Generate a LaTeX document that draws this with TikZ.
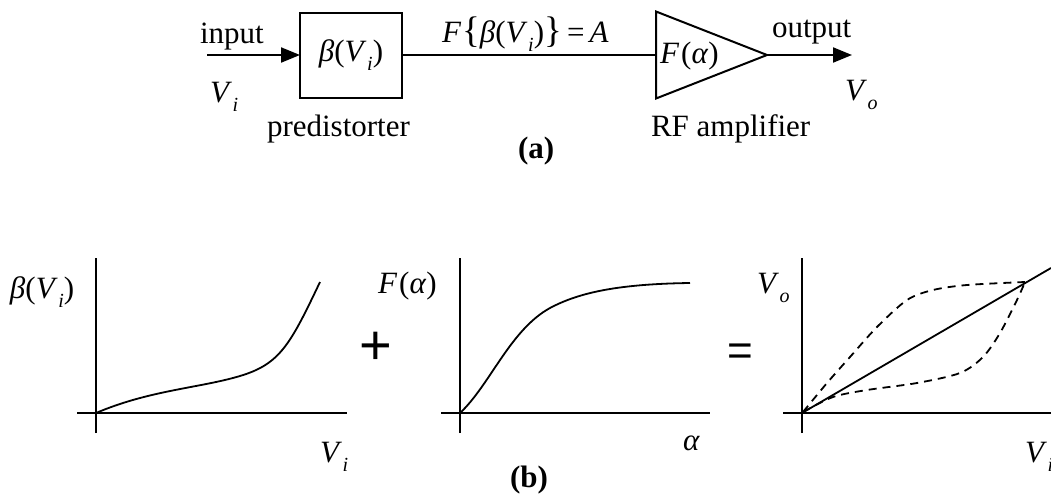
\documentclass[tikz,border=0pt]{standalone}
\usepackage{fontspec}
\setmainfont{Liberation Serif}
\newfontfamily\opfont{Liberation Sans}
\usetikzlibrary{positioning,arrows.meta,shapes.geometric}
\newcommand{\subv}[2]{\textit{#1}\kern0.3pt\raisebox{-4.5pt}{\fontsize{10}{10}\selectfont\itshape #2}}
\newcommand{\bigbrace}[1]{{\fontsize{18.5}{18}\selectfont#1}}

\begin{document}
\begin{tikzpicture}[x=0.5pt, y=-0.5pt,
  every node/.style={font=\fontsize{15.5}{18}\selectfont, inner sep=0pt, outer sep=0pt},
  blockbox/.style={draw, line width=1pt, minimum width=51pt, minimum height=42.5pt},
  amptri/.style={draw, line width=1pt, isosceles triangle, isosceles triangle stretches,
    shape border rotate=0, minimum width=43.5pt, minimum height=55.5pt},
  sig/.style={line width=1pt, -{Triangle[length=9.5pt,width=7.5pt]}},
  wire/.style={line width=1pt},
  axisline/.style={line width=1.3pt},
  resp/.style={line width=0.9pt},
  ideal/.style={line width=0.9pt, dash pattern=on 4pt off 3pt}]
  \useasboundingbox (0,0) rectangle (1051,498);

  % (a) block diagram
  \node[blockbox] (pd) at (351,55) {\textit{β}(\subv{V}{i})};
  \node[amptri, anchor=west] (amp) at (656,55) {};
  \node[anchor=base west] (ampf) at (660,63) {\textit{F}\kern1pt(\textit{α})};
  \coordinate (vin) at (207,55);
  \coordinate (vout) at (852,55);
  \draw[sig] (vin) -- (pd.west);
  \draw[wire] (pd.east) -- (amp.west);
  \draw[sig] (amp.apex) -- (vout);

  \node[anchor=base west] (inlbl) at (200,43) {input};
  \node[anchor=base west] (invar) at (210,102) {\subv{V}{i}};
  \node[anchor=base west] (pdlbl) at (267,136) {predistorter};
  \node[anchor=base west] (midlbl) at (442,42)
    {\textit{F}\kern0.5pt\bigbrace{\{}\textit{β}(\subv{V}{i})\bigbrace{\}}\,=\,\textit{A}};
  \node[anchor=base west] (amplbl) at (651,136) {RF amplifier};
  \node[anchor=base west] (outlbl) at (772,37) {output};
  \node[anchor=base west] (outvar) at (845,100) {\subv{V}{o}};
  \node[anchor=base west] (capa) at (518,158) {\textbf{(a)}};

  % (b) predistorter curve
  \draw[axisline] (77,413) -- (347,413);
  \draw[axisline] (96,433) -- (96,258);
  \draw[resp] (96,413) .. controls (150,390) and (200,388) .. (240,376)
    .. controls (280,364) and (290,345) .. (320,282);
  \node[anchor=base west] (pdy) at (10,298) {\textit{β}(\subv{V}{i})};
  \node[anchor=base west] (pdx) at (320,462) {\subv{V}{i}};

  % (b) amplifier curve
  \draw[axisline] (441,413) -- (710,413);
  \draw[axisline] (460,433) -- (460,258);
  \draw[resp] (460,413) .. controls (490,385) and (510,330) .. (550,308)
    .. controls (580,292) and (620,284) .. (690,283);
  \node[anchor=base west] (ampy) at (378,293) {\textit{F}\kern1pt(\textit{α})};
  \node[anchor=base west] (ampx) at (683,450) {\textit{α}};
  \node[font=\opfont\fontsize{28}{28}\selectfont] (plus) at (376,348) {+};

  % (b) overall response
  \draw[axisline] (783,413) -- (1051,413);
  \draw[axisline] (802,433) -- (802,258);
  \draw[resp] (802,413) -- (1051,268);
  \draw[ideal] plot[smooth] coordinates {(803,412) (827,383) (850,357) (877,327) (907,300) (933,290) (967,285) (1025,282)};
  \draw[ideal] plot[smooth] coordinates {(803,412) (833,397) (867,390) (917,383) (960,373) (983,357) (1000,333) (1017,300) (1025,282)};
  \node[anchor=base west] (toty) at (757,293) {\subv{V}{o}};
  \node[anchor=base west] (totx) at (1025,462) {\subv{V}{i}};
  \node[font=\opfont\fontsize{22}{22}\selectfont] (eq) at (740,355) {=};
  \node[anchor=base west] (capb) at (510,487) {\textbf{(b)}};
\end{tikzpicture}
\end{document}
